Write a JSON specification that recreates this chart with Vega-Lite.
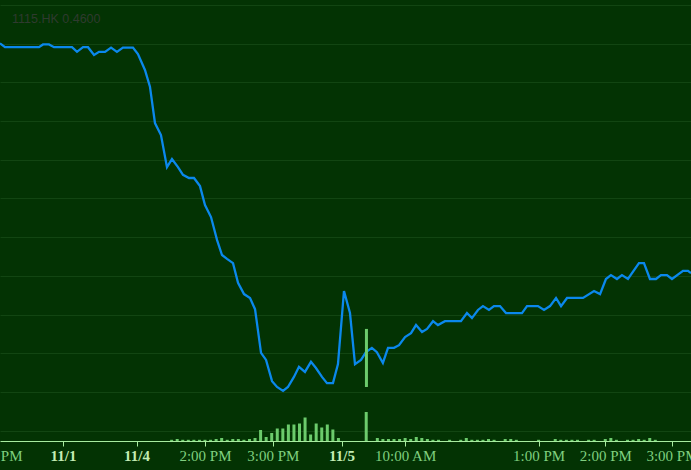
{
  "$schema": "https://vega.github.io/schema/vega-lite/v6.json",
  "width": 691,
  "height": 441,
  "autosize": {"type": "none"},
  "padding": {"left": 0, "top": 0, "right": 0, "bottom": 29},
  "background": "#033303",
  "config": {"view": {"stroke": null, "fill": "#033303"}},
  "title": {"text": "1115.HK 0.4600", "anchor": "start", "frame": "group", "orient": "top", "offset": -35, "dx": 12, "baseline": "alphabetic", "font": "Liberation Sans", "fontSize": 12.5, "fontWeight": "normal", "color": "#2f3a2f"},
  "datasets": {
    "price": [
      {"t": -4.37, "p": 0.5201}, {"t": 0.13, "p": 0.5191}, {"t": 30.7, "p": 0.5191}, {"t": 34.3, "p": 0.5198}, {"t": 39.7, "p": 0.5198},
      {"t": 44.2, "p": 0.5191}, {"t": 60.4, "p": 0.5191}, {"t": 64.9, "p": 0.5179}, {"t": 70.3, "p": 0.5191}, {"t": 74.8, "p": 0.5191},
      {"t": 80.2, "p": 0.5171}, {"t": 84.7, "p": 0.5179}, {"t": 90.1, "p": 0.5179}, {"t": 95.5, "p": 0.519}, {"t": 100.8, "p": 0.5179},
      {"t": 106.2, "p": 0.519}, {"t": 115.2, "p": 0.519}, {"t": 119.7, "p": 0.5173}, {"t": 126.0, "p": 0.5132}, {"t": 130.5, "p": 0.5089},
      {"t": 135.0, "p": 0.4995}, {"t": 140.4, "p": 0.4964}, {"t": 145.8, "p": 0.4881}, {"t": 150.3, "p": 0.4902}, {"t": 155.7, "p": 0.4881},
      {"t": 160.2, "p": 0.4861}, {"t": 165.6, "p": 0.4853}, {"t": 170.1, "p": 0.4853}, {"t": 175.5, "p": 0.4832}, {"t": 180.0, "p": 0.4783},
      {"t": 185.4, "p": 0.4752}, {"t": 190.8, "p": 0.4693}, {"t": 195.3, "p": 0.4654}, {"t": 199.8, "p": 0.4644}, {"t": 205.2, "p": 0.4633},
      {"t": 209.7, "p": 0.4582}, {"t": 215.1, "p": 0.4553}, {"t": 220.5, "p": 0.4543}, {"t": 225.0, "p": 0.4514}, {"t": 230.4, "p": 0.4401},
      {"t": 234.9, "p": 0.4383}, {"t": 240.3, "p": 0.4328}, {"t": 244.8, "p": 0.4313}, {"t": 250.2, "p": 0.4303}, {"t": 254.6, "p": 0.4313},
      {"t": 260.0, "p": 0.4339}, {"t": 264.5, "p": 0.4365}, {"t": 269.9, "p": 0.4352}, {"t": 275.3, "p": 0.4378}, {"t": 279.8, "p": 0.4362},
      {"t": 285.2, "p": 0.4339}, {"t": 289.7, "p": 0.4323}, {"t": 295.1, "p": 0.4323}, {"t": 299.6, "p": 0.4372}, {"t": 305.0, "p": 0.4561},
      {"t": 310.4, "p": 0.4504}, {"t": 314.9, "p": 0.4372}, {"t": 320.3, "p": 0.4383}, {"t": 324.8, "p": 0.4403}, {"t": 330.1, "p": 0.4414},
      {"t": 334.6, "p": 0.4403}, {"t": 340.0, "p": 0.4375}, {"t": 344.6, "p": 0.4414}, {"t": 350.0, "p": 0.4414}, {"t": 354.5, "p": 0.4421},
      {"t": 359.9, "p": 0.4442}, {"t": 365.3, "p": 0.4452}, {"t": 369.8, "p": 0.4473}, {"t": 375.2, "p": 0.4455}, {"t": 379.7, "p": 0.4463},
      {"t": 385.1, "p": 0.4483}, {"t": 389.5, "p": 0.4473}, {"t": 395.8, "p": 0.4483}, {"t": 410.2, "p": 0.4483}, {"t": 415.6, "p": 0.4504},
      {"t": 420.1, "p": 0.4491}, {"t": 425.5, "p": 0.4512}, {"t": 430.0, "p": 0.4522}, {"t": 435.4, "p": 0.4512}, {"t": 439.9, "p": 0.4522},
      {"t": 445.3, "p": 0.4522}, {"t": 450.7, "p": 0.4504}, {"t": 465.1, "p": 0.4504}, {"t": 469.6, "p": 0.4522}, {"t": 479.5, "p": 0.4522},
      {"t": 484.9, "p": 0.4512}, {"t": 490.3, "p": 0.4522}, {"t": 495.7, "p": 0.4543}, {"t": 500.2, "p": 0.4522}, {"t": 505.6, "p": 0.4543},
      {"t": 520.0, "p": 0.4543}, {"t": 529.9, "p": 0.4561}, {"t": 535.3, "p": 0.4553}, {"t": 540.6, "p": 0.4592}, {"t": 545.1, "p": 0.4602},
      {"t": 550.5, "p": 0.4592}, {"t": 555.0, "p": 0.4602}, {"t": 560.4, "p": 0.4592}, {"t": 570.3, "p": 0.4633}, {"t": 574.8, "p": 0.4633},
      {"t": 580.2, "p": 0.4592}, {"t": 585.6, "p": 0.4592}, {"t": 590.1, "p": 0.4602}, {"t": 595.5, "p": 0.4602}, {"t": 600.0, "p": 0.4592},
      {"t": 609.9, "p": 0.4613}, {"t": 614.4, "p": 0.4613}, {"t": 617.1, "p": 0.4607}
    ],
    "volume": [
      {"t": 150, "v": 12}, {"t": 155, "v": 20}, {"t": 160, "v": 12}, {"t": 165, "v": 12}, {"t": 170, "v": 12}, {"t": 175, "v": 12},
      {"t": 180, "v": 12}, {"t": 185, "v": 12}, {"t": 190, "v": 20}, {"t": 195, "v": 30}, {"t": 200, "v": 12}, {"t": 205, "v": 20},
      {"t": 210, "v": 20}, {"t": 215, "v": 12}, {"t": 220, "v": 20}, {"t": 225, "v": 30}, {"t": 230, "v": 110}, {"t": 235, "v": 40},
      {"t": 240, "v": 80}, {"t": 245, "v": 125}, {"t": 250, "v": 125}, {"t": 255, "v": 165}, {"t": 260, "v": 165}, {"t": 265, "v": 175},
      {"t": 270, "v": 235}, {"t": 275, "v": 65}, {"t": 280, "v": 175}, {"t": 285, "v": 135}, {"t": 290, "v": 165}, {"t": 295, "v": 115},
      {"t": 300, "v": 30},
      {"t": 325, "v": 290}, {"t": 335, "v": 30}, {"t": 340, "v": 20}, {"t": 345, "v": 20}, {"t": 350, "v": 20}, {"t": 355, "v": 20},
      {"t": 360, "v": 30}, {"t": 365, "v": 20}, {"t": 370, "v": 40}, {"t": 375, "v": 30}, {"t": 380, "v": 20}, {"t": 385, "v": 12},
      {"t": 390, "v": 12}, {"t": 400, "v": 12}, {"t": 410, "v": 12}, {"t": 415, "v": 30}, {"t": 420, "v": 12}, {"t": 425, "v": 12},
      {"t": 430, "v": 12}, {"t": 435, "v": 20}, {"t": 440, "v": 12}, {"t": 450, "v": 20}, {"t": 455, "v": 20}, {"t": 460, "v": 12},
      {"t": 480, "v": 12}, {"t": 495, "v": 20}, {"t": 500, "v": 12}, {"t": 505, "v": 12}, {"t": 510, "v": 12}, {"t": 515, "v": 12},
      {"t": 525, "v": 12}, {"t": 530, "v": 12}, {"t": 540, "v": 20}, {"t": 545, "v": 30}, {"t": 550, "v": 12}, {"t": 560, "v": 12},
      {"t": 565, "v": 12}, {"t": 570, "v": 20}, {"t": 575, "v": 12}, {"t": 580, "v": 30}, {"t": 585, "v": 12}
    ],
    "spike": [{"t": 325.2, "hi": 0.4463, "lo": 0.4313}]
  },
  "layer": [
    {
      "data": {"name": "volume"},
      "mark": {"type": "bar", "width": 3, "color": "#6ccb6c"},
      "encoding": {
        "x": {"field": "t", "type": "quantitative"},
        "y": {"field": "v", "type": "quantitative", "scale": {"domain": [0, 4410], "nice": false}, "axis": null}
      }
    },
    {
      "layer": [
        {
          "data": {"name": "price"},
          "mark": {"type": "line", "color": "#0b88ec", "strokeWidth": 2.3},
          "encoding": {
            "x": {
              "field": "t", "type": "quantitative",
              "scale": {"domain": [-4.37, 617.1], "nice": false, "zero": false, "padding": 0},
              "axis": {
                "values": [-4.37, 52.3, 118.4, 180, 241, 302.8, 360, 480, 540, 600],
                "labelExpr": "datum.value < 0 ? '3:00 PM' : datum.value == 52.3 ? '11/1' : datum.value == 118.4 ? '11/4' : datum.value == 180 ? '2:00 PM' : datum.value == 241 ? '3:00 PM' : datum.value == 302.8 ? '11/5' : datum.value == 360 ? '10:00 AM' : datum.value == 480 ? '1:00 PM' : datum.value == 540 ? '2:00 PM' : '3:00 PM'",
                "title": null, "grid": false,
                "domainColor": "#a8eca0", "tickColor": "#a8eca0", "tickSize": 5,
                "tickOpacity": {"condition": {"test": "datum.value < 0", "value": 0}, "value": 1},
                "labelOffset": {"condition": {"test": "datum.value < 0", "value": -4}, "value": 0},
                "labelFont": "Liberation Serif", "labelFontSize": 15, "labelPadding": 2,
                "labelColor": {"condition": {"test": "datum.value == 52.3 || datum.value == 118.4 || datum.value == 302.8", "value": "#c4ecb4"}, "value": "#7fcf7f"},
                "labelFontWeight": {"condition": {"test": "datum.value == 52.3 || datum.value == 118.4 || datum.value == 302.8", "value": "bold"}, "value": "normal"},
                "labelOverlap": false, "labelFlush": false, "labelBound": false
              }
            },
            "y": {
              "field": "p", "type": "quantitative",
              "scale": {"domain": [0.41734, 0.53129], "nice": false, "zero": false},
              "axis": {"values": [0.42, 0.43, 0.44, 0.45, 0.46, 0.47, 0.48, 0.49, 0.5, 0.51, 0.52, 0.53], "labels": false, "ticks": false, "domain": false, "title": null, "grid": true, "gridColor": "#124512", "gridOpacity": 1, "gridWidth": 1}
            }
          }
        },
        {
          "data": {"name": "spike"},
          "mark": {"type": "rule", "color": "#6ccb6c", "strokeWidth": 3},
          "encoding": {
            "x": {"field": "t", "type": "quantitative"},
            "y": {"field": "hi", "type": "quantitative"},
            "y2": {"field": "lo"}
          }
        }
      ]
    }
  ],
  "resolve": {"scale": {"y": "independent"}}
}
